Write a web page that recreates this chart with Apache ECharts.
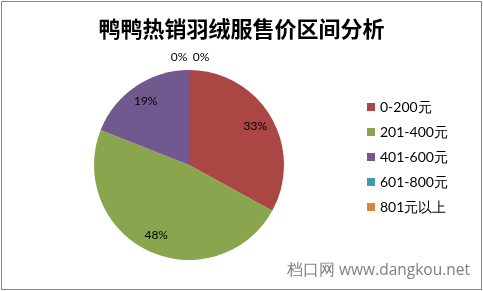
<!DOCTYPE html>
<html>
<head>
<meta charset="utf-8">
<script src="https://cdn.jsdelivr.net/npm/echarts@6/dist/echarts.min.js"></script>
<style>
html,body{margin:0;padding:0;background:#fff;}
#chart{width:483px;height:291px;}
</style>
</head>
<body>
<div id="chart"></div>
<script>
const titleText = '鸭鸭热销羽绒服售价区间分析';
const categories = ['0-200元', '201-400元', '401-600元', '601-800元', '801元以上'];
const shares = [33, 48, 19, 0, 0];
const colors = ['#AA4643', '#89A54E', '#71588F', '#4198AF', '#DB843D'];
const watermark = '档口网 www.dangkou.net';

const chart = echarts.init(document.getElementById('chart'), null, {renderer: 'canvas'});
const zeroOffsets = [[-10, -31], [12, -31]];
let zi = 0;
const labelData = categories.map((c, i) => {
  const item = {name: c, value: shares[i]};
  if (shares[i] === 0) {
    item.label = {offset: zeroOffsets[zi++ % 2]};
  }
  return item;
});
chart.setOption({
  animation: false,
  color: colors,
  title: {
    text: titleText,
    left: 'center',
    top: 13,
    textStyle: {fontFamily: 'Noto Sans CJK SC', fontWeight: 'bold', fontSize: 22, color: '#000'}
  },
  legend: {
    orient: 'vertical',
    left: 362,
    top: 95,
    itemWidth: 8,
    itemHeight: 8,
    itemGap: 11,
    icon: 'rect',
    selectedMode: false,
    textStyle: {fontFamily: 'Lato', fontSize: 14, color: '#000', padding: [0, 0, 0, 0]},
    data: categories.map((c, i) => ({name: c, itemStyle: {color: colors[i]}}))
  },
  graphic: [
    {type: 'rect', shape: {x: 1.5, y: 1.5, width: 480, height: 288}, style: {fill: null, stroke: '#868686', lineWidth: 1}, silent: true},
    {type: 'text', right: 13, top: 263, style: {text: watermark, fill: '#808080', font: '15.5px "Open Sans"'}, silent: true}
  ],
  series: [
    {
      type: 'pie',
      center: [189, 165],
      radius: 95,
      startAngle: 90,
      clockwise: true,
      label: {show: false},
      labelLine: {show: false},
      emphasis: {disabled: true},
      data: categories.map((c, i) => ({name: c, value: shares[i]}))
    },
    {
      type: 'pie',
      center: [189, 165],
      radius: [53, 95],
      startAngle: 90,
      clockwise: true,
      silent: true,
      itemStyle: {color: 'transparent'},
      label: {show: true, position: 'inside', formatter: '{c}%', fontFamily: 'Lato', fontSize: 12, color: '#000'},
      labelLine: {show: false},
      emphasis: {disabled: true},
      data: labelData
    }
  ]
});
</script>
</body>
</html>
